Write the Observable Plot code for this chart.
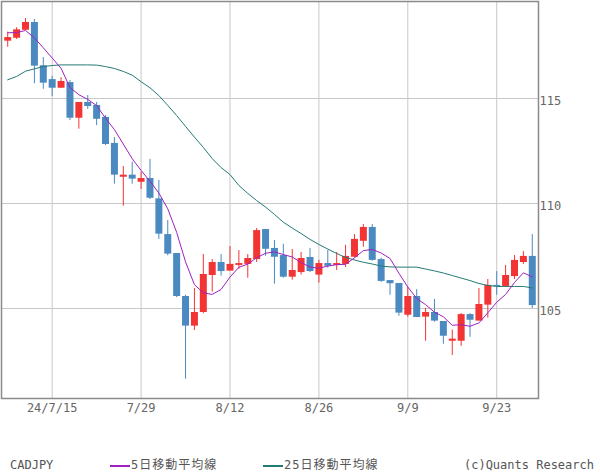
<!DOCTYPE html>
<html><head><meta charset="utf-8">
<script src="https://cdn.jsdelivr.net/npm/d3@7"></script>
<script src="https://cdn.jsdelivr.net/npm/@observablehq/plot@0.6"></script>
<style>
body{margin:0;background:#fff;}
#wrap{position:relative;width:600px;height:475px;overflow:hidden;background:#fff;}
#legend{position:absolute;left:0;top:455px;width:600px;height:20px;font-family:"DejaVu Sans Mono","Noto Sans CJK JP",monospace;font-size:12px;color:#555;}
#legend .item{position:absolute;top:0;line-height:20px;white-space:nowrap;}
#legend .jp{letter-spacing:1px;}
.sw{display:inline-block;width:20px;height:0;vertical-align:middle;margin-right:1px;}
</style></head><body><div id="wrap"><div id="chart"></div><div id="legend"></div></div>
<script>
const dates = ["2024-07-08","2024-07-09","2024-07-10","2024-07-11","2024-07-12",
"2024-07-15","2024-07-16","2024-07-17","2024-07-18","2024-07-19",
"2024-07-22","2024-07-23","2024-07-24","2024-07-25","2024-07-26",
"2024-07-29","2024-07-30","2024-07-31","2024-08-01","2024-08-02",
"2024-08-05","2024-08-06","2024-08-07","2024-08-08","2024-08-09",
"2024-08-12","2024-08-13","2024-08-14","2024-08-15","2024-08-16",
"2024-08-19","2024-08-20","2024-08-21","2024-08-22","2024-08-23",
"2024-08-26","2024-08-27","2024-08-28","2024-08-29","2024-08-30",
"2024-09-02","2024-09-03","2024-09-04","2024-09-05","2024-09-06",
"2024-09-09","2024-09-10","2024-09-11","2024-09-12","2024-09-13",
"2024-09-16","2024-09-17","2024-09-18","2024-09-19","2024-09-20",
"2024-09-23","2024-09-24","2024-09-25","2024-09-26","2024-09-27"];
const open = [117.73,117.87,118.25,118.62,116.56, 115.90,115.49,115.76,114.06,114.81,
114.67,114.10,112.86,111.25,111.35, 111.01,111.19,110.22,108.52,107.62,
105.57,104.16,104.81,106.57,107.19, 106.78,107.05,107.10,107.33,108.76,
107.86,107.52,106.49,106.71,107.43, 106.59,107.14,107.05,107.10,107.44,
108.20,108.86,107.33,106.33,106.19, 104.68,105.57,104.59,104.81,104.38,
103.44,103.44,104.71,104.40,105.16, 106.10,106.05,106.52,107.19,107.48];
const high = [118.16,118.37,118.81,118.76,116.95, 116.05,115.99,115.86,114.81,115.14,
114.81,114.19,113.14,111.76,111.97, 111.49,112.10,111.10,109.19,107.62,
105.63,105.95,107.57,107.33,107.57, 107.95,107.76,107.57,108.81,108.76,
108.24,108.06,107.81,107.67,107.86, 107.29,107.76,107.67,108.01,108.52,
109.00,109.00,107.40,106.33,106.19, 106.01,105.90,105.01,105.43,104.38,
103.97,104.76,104.76,105.95,106.38, 106.76,107.05,107.52,107.71,108.52];
const low = [117.44,117.81,118.24,115.70,115.44, 115.10,115.49,113.95,113.54,114.48,
113.71,112.76,110.92,109.87,110.92, 110.67,110.19,108.29,107.51,105.52,
101.63,103.95,104.75,105.78,106.54, 106.78,106.87,106.44,107.19,107.49,
106.16,106.44,106.35,106.59,106.71, 106.21,106.92,106.81,106.95,107.40,
107.92,107.25,106.24,105.63,104.63, 104.59,104.57,103.44,104.35,103.30,
102.76,103.20,103.63,104.40,104.54, 105.63,106.00,106.38,107.10,105.00];
const close = [117.90,118.27,118.62,116.54,115.73, 115.49,115.81,114.06,114.81,114.62,
114.01,112.81,111.35,111.35,111.16, 111.19,110.25,108.54,107.59,105.57,
104.16,104.81,106.62,107.19,106.76, 107.10,107.14,107.38,108.71,107.82,
107.44,106.49,106.81,107.38,106.76, 107.14,107.01,107.14,107.48,108.29,
108.86,107.29,106.29,106.18,104.78, 105.57,104.57,104.81,104.40,103.68,
103.54,104.71,104.44,105.19,106.10, 106.05,106.57,107.29,107.48,105.14];
// 5-day MA values of the first four bars (need earlier closes)
const ma5Head = [118.13,118.14,118.24,117.89];
// 25-day MA
const ma25 = [115.89,116.05,116.30,116.41,116.52, 116.57,116.60,116.60,116.60,116.60,
116.59,116.52,116.43,116.29,116.11, 115.80,115.51,115.14,114.67,114.19,
113.67,113.16,112.67,112.14,111.71, 111.38,110.86,110.48,110.14,109.83,
109.48,109.11,108.83,108.57,108.29, 108.05,107.83,107.62,107.43,107.31,
107.20,107.12,107.02,106.98,106.97, 106.97,106.97,106.88,106.79,106.69,
106.57,106.45,106.33,106.19,106.10, 106.05,106.05,106.05,106.05,105.98];
const tickDates = ["2024-07-15","2024-07-29","2024-08-12","2024-08-26","2024-09-09","2024-09-23"];
const tickLabels = ["24/7/15","7/29","8/12","8/26","9/9","9/23"];
const yTicks = [105,110,115];

const RED = "#f23434", BLUE = "#4a8ac0", PURPLE = "#a020c0", TEAL = "#237a74";

const rows = dates.map((d,i)=>({date:d, open:open[i], high:high[i], low:low[i], close:close[i], up: close[i] >= open[i]}));
const ma5 = dates.map((d,i)=> i < 4 ? ma5Head[i] : d3.mean(close.slice(i-4,i+1)));
const maRows = dates.map((d,i)=>({date:d, ma5:ma5[i], ma25:ma25[i]}));
const fmt = d => tickLabels[tickDates.indexOf(d)];
const ups = rows.filter(d=>d.up), downs = rows.filter(d=>!d.up);

const chart = Plot.plot({
  width:600, height:455, marginTop:1, marginLeft:1, marginRight:62, marginBottom:57,
  style:{fontFamily:"DejaVu Sans Mono, monospace", fontSize:"12px", color:"#666", background:"#fff", overflow:"visible"},
  x:{type:"point", domain:dates, padding:0.7, label:null},
  y:{domain:[100.714,119.619], label:null},
  marks:[
    Plot.gridX(tickDates,{stroke:"#c8c8c8", strokeOpacity:1}),
    Plot.gridY(yTicks,{stroke:"#c8c8c8", strokeOpacity:1}),
    Plot.ruleX(ups,{x:"date", y1:"low", y2:"high", stroke:RED, strokeWidth:1}),
    Plot.ruleX(downs,{x:"date", y1:"low", y2:"high", stroke:BLUE, strokeWidth:1}),
    Plot.ruleX(ups,{x:"date", y1:"open", y2:"close", stroke:RED, strokeWidth:7}),
    Plot.ruleX(downs,{x:"date", y1:"open", y2:"close", stroke:BLUE, strokeWidth:7}),
    Plot.lineY(maRows,{x:"date", y:"ma25", stroke:TEAL, strokeWidth:1}),
    Plot.lineY(maRows,{x:"date", y:"ma5", stroke:PURPLE, strokeWidth:1}),
    Plot.axisX({ticks:tickDates, tickSize:0, tickPadding:5, tickFormat:fmt, label:null, fill:"#666"}),
    Plot.axisY({anchor:"right", ticks:yTicks, tickSize:0, tickPadding:1, dy:3, label:null, fill:"#666"}),
    Plot.frame({stroke:"#8a8a8a", strokeWidth:1.5})
  ]
});
document.getElementById("chart").appendChild(chart);

const legend = document.getElementById("legend");
const items = [
  {left:10, html:"CADJPY"},
  {left:110, html:'<i class="sw" style="border-top:2px solid '+PURPLE+'"></i><span class="jp">5日移動平均線</span>'},
  {left:263, html:'<i class="sw" style="border-top:2px solid '+TEAL+'"></i><span class="jp">25日移動平均線</span>'}
];
for (const it of items) { const s=document.createElement("div"); s.className="item"; s.style.left=it.left+"px"; s.innerHTML=it.html; legend.appendChild(s); }
const c = document.createElement("div"); c.className="item"; c.style.right="6px"; c.textContent="(c)Quants Research"; legend.appendChild(c);
</script></body></html>
